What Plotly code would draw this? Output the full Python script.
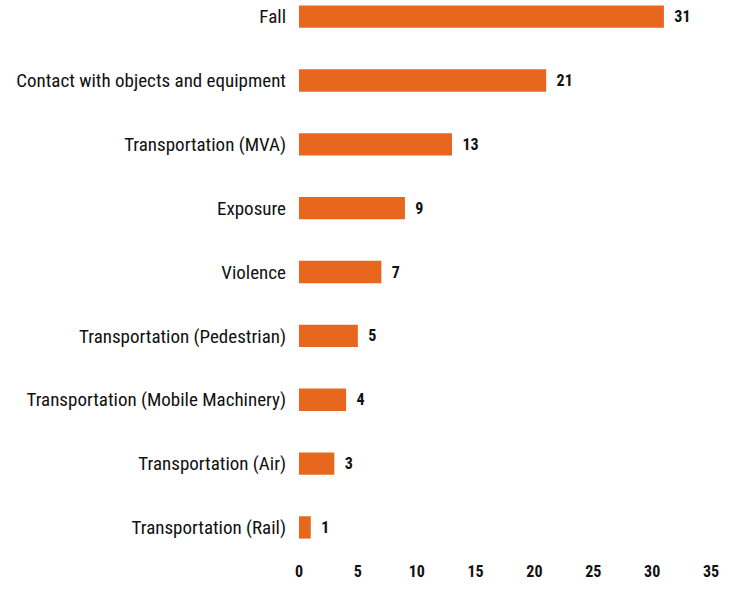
"""Horizontal bar chart of incident causes."""

import plotly.graph_objects as go

categories = [
    "Fall",
    "Contact with objects and equipment",
    "Transportation (MVA)",
    "Exposure",
    "Violence",
    "Transportation (Pedestrian)",
    "Transportation (Mobile Machinery)",
    "Transportation (Air)",
    "Transportation (Rail)",
]
counts = [31, 21, 13, 9, 7, 5, 4, 3, 1]
x_ticks = [0, 5, 10, 15, 20, 25, 30, 35]

FONT = "Roboto Condensed, Liberation Sans Narrow, Arial Narrow, sans-serif"
ORANGE = "#E8671E"

fig = go.Figure(
    go.Bar(
        x=counts,
        y=categories,
        orientation="h",
        marker=dict(color=ORANGE, line_width=0),
        width=0.35,
        text=[f"  {v}" for v in counts],
        textposition="outside",
        textfont=dict(family=FONT, size=16, color="#111", weight="bold"),
        cliponaxis=False,
        hoverinfo="skip",
    )
)
fig.update_yaxes(
    categoryorder="array",
    categoryarray=categories,
    range=[8.51, -0.26],
    showgrid=False,
    zeroline=False,
    showline=False,
    ticks="",
    ticklabelstandoff=12,
    tickfont=dict(family=FONT, size=19, color="#111"),
)
fig.update_xaxes(
    range=[0, 35],
    tickvals=x_ticks,
    showgrid=False,
    zeroline=False,
    showline=False,
    ticks="",
    tickfont=dict(family=FONT, size=16, color="#111", weight="bold"),
)
fig.update_layout(
    width=738,
    height=592,
    plot_bgcolor="white",
    paper_bgcolor="white",
    showlegend=False,
    margin=dict(l=299, r=27, t=0, b=32, autoexpand=False),
)
# drop the browser's default page margin so the figure fills the window
fig.write_html(
    "out.html",
    config={"displayModeBar": False},
    post_script="document.body.style.margin = '0';",
)
